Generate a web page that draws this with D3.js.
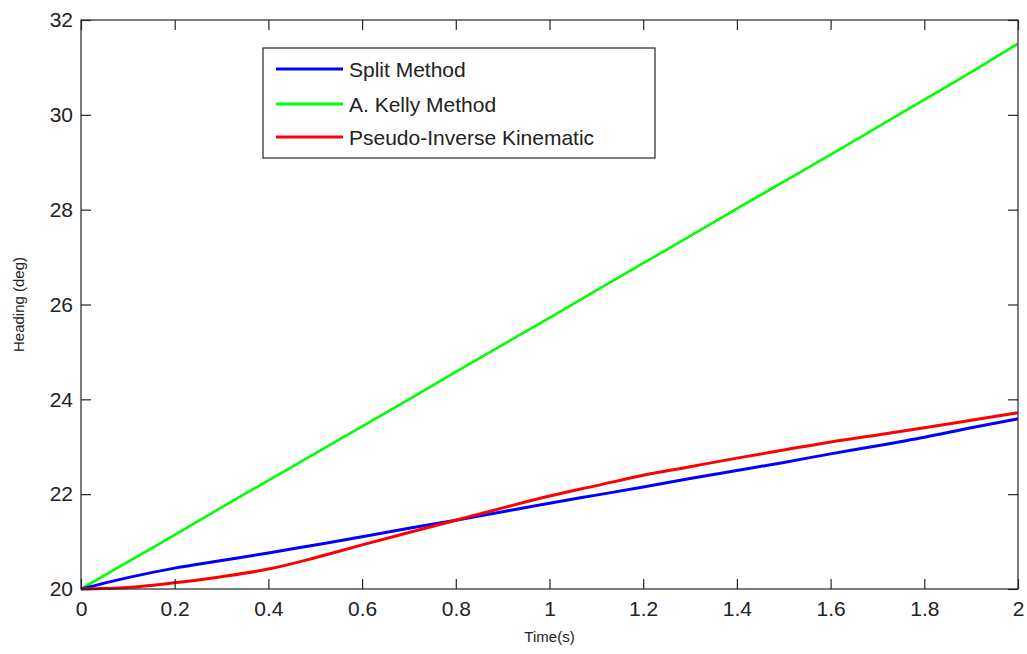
<!DOCTYPE html>
<html><head><meta charset="utf-8">
<script src="https://cdn.jsdelivr.net/npm/d3@7"></script>
<style>body{margin:0;background:#fff}svg{display:block}text{font-family:"Liberation Sans",Arial,sans-serif;fill:#222}</style>
</head><body><svg id="c" width="1027" height="654"></svg>
<script>
const timeS = [0,0.1,0.2,0.3,0.4,0.5,0.6,0.7,0.8,0.9,1.0,1.1,1.2,1.3,1.4,1.5,1.6,1.7,1.8,1.9,2.0];
const splitMethod = [20,20.24,20.44,20.6,20.76,20.93,21.1,21.28,21.45,21.63,21.81,21.98,22.15,22.33,22.5,22.67,22.85,23.02,23.2,23.4,23.59];
const kellyMethod = [20,20.57,21.14,21.72,22.29,22.86,23.43,24.0,24.58,25.15,25.72,26.3,26.87,27.44,28.02,28.59,29.16,29.74,30.32,30.9,31.5];
const pseudoInverse = [20,20.03,20.13,20.26,20.42,20.66,20.93,21.19,21.45,21.71,21.96,22.18,22.4,22.58,22.76,22.93,23.1,23.25,23.4,23.56,23.72];
const xTicks = [0,0.2,0.4,0.6,0.8,1,1.2,1.4,1.6,1.8,2];
const yTicks = [20,22,24,26,28,30,32];
const seriesNames = ["Split Method","A. Kelly Method","Pseudo-Inverse Kinematic"];
const seriesColors = ["#0000ff","#00ff00","#ff0000"];

const svg = d3.select("#c");
const L=81, R=1018, T=20, B=589;
const x = d3.scaleLinear().domain([0,2]).range([L,R]);
const y = d3.scaleLinear().domain([20,32]).range([B,T]);
const axisColor="#262626";

const series=[splitMethod,kellyMethod,pseudoInverse];
const line=d3.line().curve(d3.curveMonotoneX).x((d,i)=>x(timeS[i])).y(d=>y(d));
const widths=[3,2.6,3];
const order=[1,0,2];
order.forEach(k=>{
  svg.append("path").datum(series[k]).attr("d",line).attr("fill","none")
    .attr("stroke",seriesColors[k]).attr("stroke-width",widths[k]);
});

// axes frame
svg.append("rect").attr("x",L).attr("y",T).attr("width",R-L).attr("height",B-T)
  .attr("fill","none").attr("stroke",axisColor).attr("stroke-width",1.2);

const fmt=d=>String(d);
const xb=svg.append("g").attr("transform",`translate(0,${B})`).call(d3.axisBottom(x).tickValues(xTicks).tickSizeInner(-10).tickSizeOuter(0).tickPadding(18).tickFormat(fmt));
const xt=svg.append("g").attr("transform",`translate(0,${T})`).call(d3.axisTop(x).tickValues(xTicks).tickSizeInner(-10).tickSizeOuter(0).tickFormat(""));
const yl=svg.append("g").attr("transform",`translate(${L},0)`).call(d3.axisLeft(y).tickValues(yTicks).tickSizeInner(-10).tickSizeOuter(0).tickPadding(18).tickFormat(fmt));
const yr=svg.append("g").attr("transform",`translate(${R},0)`).call(d3.axisRight(y).tickValues(yTicks).tickSizeInner(-10).tickSizeOuter(0).tickFormat(""));
[xb,xt,yl,yr].forEach(g=>{
  g.select(".domain").remove();
  g.selectAll(".tick line").attr("stroke",axisColor).attr("stroke-width",1.2);
  g.selectAll(".tick text").style("font-size","21px").attr("fill","#222");
});
xb.selectAll(".tick text").attr("dy","0.71em").attr("y",12);
yl.selectAll(".tick text").attr("x",-8);

svg.append("text").attr("x",(L+R)/2).attr("y",642).attr("text-anchor","middle").style("font-size","15px").text("Time(s)");
svg.append("text").attr("transform",`translate(24,${(T+B)/2}) rotate(-90)`).attr("text-anchor","middle").style("font-size","15px").text("Heading (deg)");

// legend
const lg=svg.append("g");
lg.append("rect").attr("x",263).attr("y",48).attr("width",392).attr("height",110).attr("fill","#fff").attr("stroke",axisColor).attr("stroke-width",1.2);
const rowsY=[69,104,137];
seriesNames.forEach((n,i)=>{
  lg.append("line").attr("x1",276).attr("x2",343).attr("y1",rowsY[i]).attr("y2",rowsY[i]).attr("stroke",seriesColors[i]).attr("stroke-width",3);
  lg.append("text").attr("x",349).attr("y",rowsY[i]).attr("dy","0.36em").style("font-size","21px").text(n);
});
</script></body></html>
